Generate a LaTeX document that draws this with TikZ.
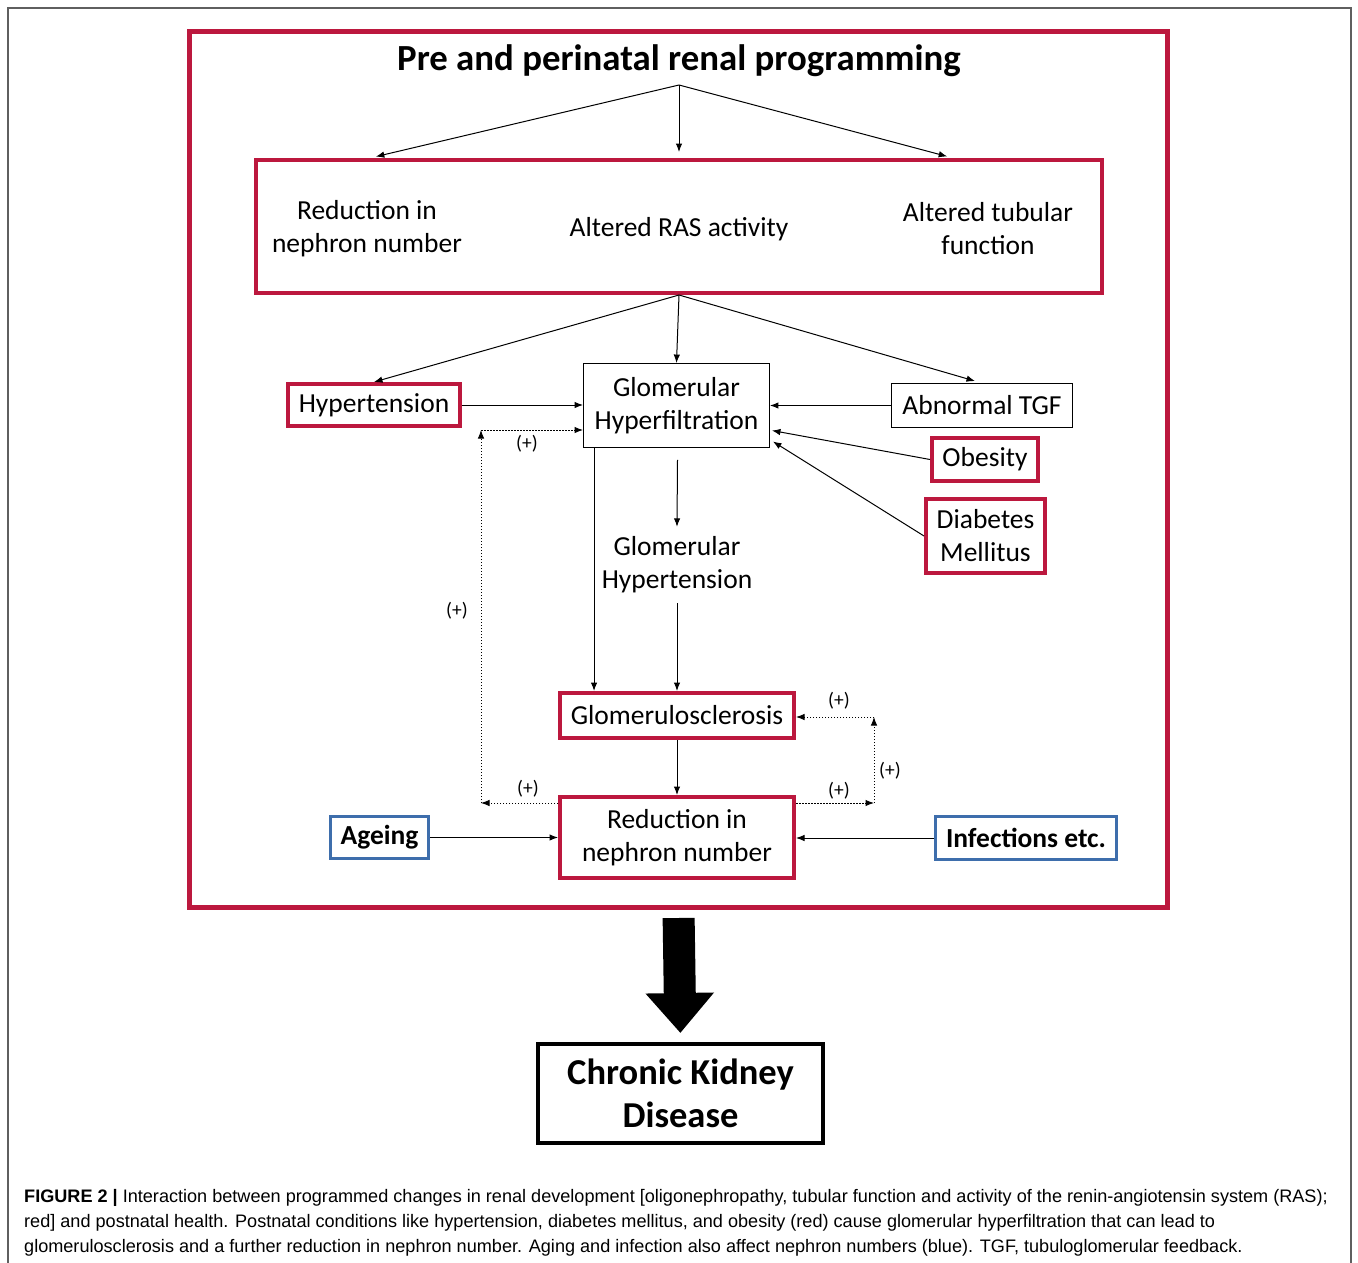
\documentclass[tikz,border=0pt]{standalone}
\usepackage{fontspec}
\setmainfont{Carlito}
\newfontfamily\capfont{Liberation Sans}
\usetikzlibrary{arrows.meta,calc}
\definecolor{redc}{RGB}{188,24,62}
\definecolor{bluec}{RGB}{62,110,172}
\definecolor{framegray}{RGB}{95,95,95}
\begin{document}
\begin{tikzpicture}[x=1pt,y=-1pt,
  txt/.style={align=center, inner sep=0pt, font=\fontsize{27.5}{33}\selectfont},
  redbox/.style={txt, draw=redc, line width=4pt},
  blkbox/.style={txt, draw=black, line width=0.9pt},
  bluebox/.style={txt, draw=bluec, line width=3pt, font=\fontsize{27.5}{33}\selectfont\bfseries},
  arr/.style={-{Latex[length=8.5pt,width=6.5pt]}, line width=1pt},
  dotarr/.style={arr, dash pattern=on 1.5pt off 1.5pt},
  plus/.style={inner sep=0pt, font=\fontsize{19.5}{20}\selectfont},
  captxt/.style={anchor=base west, inner sep=0pt, font=\capfont\fontsize{18.1}{20}\selectfont}
]
\useasboundingbox (0,0) rectangle (1358,1263);
% page frame
\draw[framegray, line width=1.6pt] (8,1263) -- (8,8) -- (1351,8) -- (1351,1263);

% outer red frame
\node[draw=redc, line width=5pt, minimum width=978, minimum height=876, inner sep=0pt] (frame) at (678.5,469.5) {};
\node[inner sep=0pt, font=\fontsize{36.8}{40}\selectfont\bfseries] (title) at (679,61) {Pre and perinatal renal programming};
\coordinate (ts) at (679,85);

% inner box
\node[draw=redc, line width=4pt, minimum width=846, minimum height=133, inner sep=0pt] (inner) at (679,226.5) {};
\node[txt] (r1) at (367,228.5) {Reduction in\\nephron number};
\node[txt] (r2) at (679,229) {Altered RAS activity};
\node[txt] (r3) at (988,228.5) {Altered tubular\\function};

\draw[arr, shorten >=6pt] (ts) -- ($(inner.north -| r1)+(3,0)$);
\draw[arr, shorten >=6pt] (ts) -- (inner.north -| r2);
\draw[arr, shorten >=6pt] (ts) -- ($(inner.north -| r3)+(-35,0)$);

% middle row
\node[redbox, minimum width=172, minimum height=42] (hyp) at (374,405) {Hypertension};
\node[blkbox, minimum width=186, minimum height=84] (gh) at (676.5,405.5) {Glomerular\\Hyperfiltration};
\node[blkbox, minimum width=181, minimum height=44] (tgf) at (982,405.5) {Abnormal TGF};
\node[redbox, minimum width=106, minimum height=43] (obe) at (985,459.5) {Obesity};
\node[redbox, minimum width=119, minimum height=74] (dia) at (985.5,536) {Diabetes\\Mellitus};

\draw[arr] (inner.south) -- (hyp.north);
\draw[arr] (inner.south) -- (gh.north);
\draw[arr] (inner.south) -- ($(tgf.north)+(-7,-2)$);

\draw[arr] (hyp.east) -- (hyp.east -| gh.west);
\draw[arr] (tgf.west) -- (tgf.west -| gh.east);
\draw[arr] (obe.west) -- ($(gh.east)+(2,25)$);
\draw[arr] (dia.west) -- ($(gh.east)+(3,36)$);

% glomerular hypertension
\node[txt, minimum height=80] (ght) at (677,565) {Glomerular\\Hypertension};
\node[redbox, minimum width=234, minimum height=45] (gs) at (677,715.5) {Glomerulosclerosis};
\node[redbox, minimum width=234, minimum height=81] (nep) at (677,837.5) {Reduction in\\nephron number};

\coordinate (ghl) at ($(gh.south west)+(11,0)$);
\draw[arr] ($(gh.south)+(1,12)$) -- ($(ght.north)+(0,2)$);
\draw[arr] ($(ght.south)+(0,-2)$) -- (gs.north);
\draw[arr] (ghl) -- (ghl |- gs.north);
\draw[arr] (gs.south) -- (nep.north);

% blue boxes
\node[bluebox, minimum width=98, minimum height=42] (age) at (379.5,837.5) {Ageing};
\node[bluebox, minimum width=181, minimum height=43] (inf) at (1026,838) {Infections etc.};
\draw[arr] (age.east) -- (age.east -| nep.west);
\draw[arr] (inf.west) -- (inf.west -| nep.east);

% dotted feedback loops
\coordinate (c1) at (481,803);
\coordinate (c2) at (481,430);
\coordinate (c3) at (874,803);
\coordinate (c4) at (874,717);
\draw[dotarr] (c1 -| nep.west) -- (c1);
\draw[dotarr] (c1) -- (c2);
\draw[dotarr] (c2) -- (c2 -| gh.west);
\draw[dotarr] (c3 -| nep.east) -- (c3);
\draw[dotarr] (c3) -- (c4);
\draw[dotarr] (c4) -- (c4 -| gs.east);

\node[plus] (p1) at (527,444) {(+)};
\node[plus] (p2) at (457,611) {(+)};
\node[plus] (p3) at (528,789) {(+)};
\node[plus] (p4) at (839,701) {(+)};
\node[plus] (p5) at (890,771) {(+)};
\node[plus] (p6) at (839,791) {(+)};

% CKD
\node[draw=black, line width=4pt, minimum width=285, minimum height=99, inner sep=0pt, align=center,
      font=\fontsize{36.5}{43}\selectfont\bfseries] (ckd) at (680.5,1093.5) {Chronic Kidney\\Disease};
\draw[line width=32pt, -{Triangle[length=40pt,width=66pt]}, shorten <=8pt, shorten >=9pt] (frame.south) -- (ckd.north);

% caption
\node[captxt] (cap1) at (24,1202) {\textbf{FIGURE 2 |} Interaction between programmed changes in renal development [oligonephropathy, tubular function and activity of the renin-angiotensin system (RAS);};
\node[captxt] (cap2) at (24,1227) {red] and postnatal health. Postnatal conditions like hypertension, diabetes mellitus, and obesity (red) cause glomerular hyperfiltration that can lead to};
\node[captxt] (cap3) at (24,1252) {glomerulosclerosis and a further reduction in nephron number. Aging and infection also affect nephron numbers (blue). TGF, tubuloglomerular feedback.};
\end{tikzpicture}
\end{document}
